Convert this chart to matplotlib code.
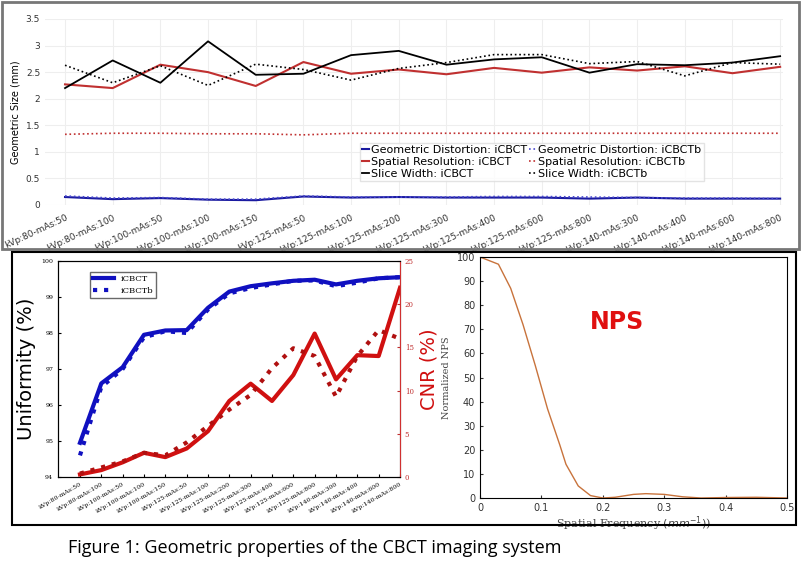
import matplotlib.pyplot as plt
from matplotlib.patches import Rectangle
import numpy as np

labels = ['kVp:80-mAs:50', 'kVp:80-mAs:100', 'kVp:100-mAs:50', 'kVp:100-mAs:100',
          'kVp:100-mAs:150', 'kVp:125-mAs:50', 'kVp:125-mAs:100', 'kVp:125-mAs:200',
          'kVp:125-mAs:300', 'kVp:125-mAs:400', 'kVp:125-mAs:600', 'kVp:125-mAs:800',
          'kVp:140-mAs:300', 'kVp:140-mAs:400', 'kVp:140-mAs:600', 'kVp:140-mAs:800']

gd_icbct = [0.15, 0.11, 0.13, 0.10, 0.09, 0.16, 0.14, 0.15, 0.14, 0.14, 0.14, 0.12, 0.14, 0.12, 0.12, 0.12]
gd_icbctb = [0.17, 0.13, 0.14, 0.11, 0.11, 0.17, 0.15, 0.15, 0.15, 0.16, 0.16, 0.15, 0.14, 0.13, 0.13, 0.12]
sr_icbct = [2.27, 2.20, 2.64, 2.50, 2.24, 2.69, 2.47, 2.55, 2.46, 2.58, 2.49, 2.59, 2.53, 2.61, 2.48, 2.60]
sr_icbctb = [1.33, 1.35, 1.35, 1.34, 1.34, 1.32, 1.35, 1.35, 1.35, 1.35, 1.35, 1.35, 1.35, 1.35, 1.35, 1.35]
sw_icbct = [2.20, 2.72, 2.30, 3.08, 2.45, 2.47, 2.82, 2.90, 2.64, 2.74, 2.78, 2.49, 2.65, 2.63, 2.68, 2.80]
sw_icbctb = [2.63, 2.30, 2.62, 2.25, 2.65, 2.55, 2.35, 2.57, 2.68, 2.83, 2.83, 2.66, 2.70, 2.43, 2.68, 2.65]

unif_icbct = [94.95, 96.6, 97.05, 97.95, 98.07, 98.08, 98.7, 99.15, 99.3, 99.38, 99.45, 99.48, 99.35, 99.45, 99.52, 99.55]
unif_icbctb = [94.6, 96.5, 97.0, 97.88, 98.05, 98.0, 98.65, 99.1, 99.25, 99.35, 99.45, 99.46, 99.3, 99.4, 99.52, 99.55]
cnr_icbct = [0.3, 0.8, 1.7, 2.8, 2.3, 3.3, 5.3, 8.8, 10.8, 8.8, 11.8, 16.6, 11.3, 14.1, 14.0, 21.9]
cnr_icbctb = [0.4, 1.1, 1.8, 2.8, 2.5, 4.0, 5.9, 7.8, 9.5, 12.6, 14.9, 14.0, 9.3, 14.0, 17.0, 16.0]

nps_freq = [0, 0.03, 0.05, 0.07, 0.09, 0.11, 0.13, 0.14, 0.16, 0.18, 0.20, 0.22, 0.25, 0.27, 0.30, 0.33, 0.36, 0.40, 0.45, 0.50]
nps_val = [100, 97, 87, 72, 55, 37, 22, 14, 5, 1, 0, 0.3, 1.5, 1.8, 1.5, 0.5, 0, 0.2, 0.3, 0]

x = np.arange(len(labels))
W, H = 801, 573
fig = plt.figure(figsize=(W / 100, H / 100), dpi=100)

def px(l, t, r, b):
    return [l / W, 1 - b / H, (r - l) / W, (b - t) / H]

# frames
fig.patches.append(Rectangle((2 / W, 1 - 249 / H), 797 / W, 247 / H, transform=fig.transFigure,
                             fill=False, ec='#777777', lw=2))
fig.patches.append(Rectangle((12 / W, 1 - 525 / H), 784 / W, 273 / H, transform=fig.transFigure,
                             fill=False, ec='black', lw=1.5))

# top panel
ax = fig.add_axes(px(45, 19, 783, 205))
h1, = ax.plot(x, gd_icbct, color='#1a1aa0', lw=1.5, label='Geometric Distortion: iCBCT')
h2, = ax.plot(x, gd_icbctb, color='#4a4ad0', lw=1.2, ls=':', label='Geometric Distortion: iCBCTb')
h3, = ax.plot(x, sr_icbct, color='#c03030', lw=1.5, label='Spatial Resolution: iCBCT')
h4, = ax.plot(x, sr_icbctb, color='#c03030', lw=1.2, ls=':', label='Spatial Resolution: iCBCTb')
h5, = ax.plot(x, sw_icbct, color='black', lw=1.3, label='Slice Width: iCBCT')
h6, = ax.plot(x, sw_icbctb, color='black', lw=1.2, ls=':', label='Slice Width: iCBCTb')
ax.set_xlim(-0.42, 15.06)
ax.set_ylim(0, 3.5)
ax.set_yticks([0, 0.5, 1, 1.5, 2, 2.5, 3, 3.5])
ax.set_yticklabels(['0', '0.5', '1', '1.5', '2', '2.5', '3', '3.5'])
ax.set_xticks(x)
ax.set_xticklabels(labels, rotation=25, ha='right', rotation_mode='anchor')
ax.tick_params(labelsize=6.5, length=0, colors='#333333')
ax.tick_params(axis='x', pad=6)
ax.grid(True, color='#eeeeee', lw=0.8)
for s in ax.spines.values():
    s.set_visible(False)
ax.set_ylabel('Geometric Size (mm)', fontsize=7)
ax.legend(handles=[h1, h3, h5, h2, h4, h6], ncol=2, fontsize=8, loc='lower right',
          bbox_to_anchor=(0.9, 0.1),
          handlelength=0.6, handletextpad=0.2, columnspacing=0.2,
          borderpad=0.2, labelspacing=0.15, frameon=True, edgecolor='#dddddd', fancybox=False)

# bottom left
serif = 'DejaVu Serif'
ax2 = fig.add_axes(px(58, 261, 400, 477))
ax2.plot(x, unif_icbct, color='#1010c0', lw=3, label='iCBCT')
ax2.plot(x, unif_icbctb, color='#1010c0', lw=3, ls=':', label='iCBCTb')
ax2.set_xlim(-1.03, 15)
ax2.set_ylim(94, 100)
ax2.set_xticks(x)
ax2.set_xticklabels(labels, rotation=30, ha='right', rotation_mode='anchor', fontfamily=serif)
ax2.tick_params(labelsize=4.5, direction='in', length=2)
for t in ax2.get_yticklabels():
    t.set_fontfamily(serif)
ax2.set_ylabel('Uniformity (%)', fontsize=14)
ax2.legend(loc='upper left', bbox_to_anchor=(0.08, 0.97), prop={'family': serif, 'size': 6},
           fancybox=False, edgecolor='#444444', handlelength=2.5)
ax3 = ax2.twinx()
ax3.plot(x, cnr_icbct, color='#d01010', lw=3)
ax3.plot(x, cnr_icbctb, color='#b01010', lw=3, ls=':')
ax3.set_ylim(0, 25)
ax3.tick_params(labelsize=5, direction='in', length=2, colors='#c03030')
for t in ax3.get_yticklabels():
    t.set_fontfamily(serif)
ax3.spines['right'].set_color('#d03030')
ax3.set_ylabel('CNR (%)', fontsize=14, color='#d01010')

# NPS
ax4 = fig.add_axes(px(480, 257, 787, 498))
ax4.plot(nps_freq, nps_val, color='#c8733c', lw=1)
ax4.set_xlim(0, 0.5)
ax4.set_ylim(0, 100)
ax4.set_yticks(range(0, 101, 10))
ax4.set_xticks([0, 0.1, 0.2, 0.3, 0.4, 0.5])
ax4.set_xticklabels(['0', '0.1', '0.2', '0.3', '0.4', '0.5'])
ax4.tick_params(labelsize=7, direction='in', length=2, colors='#333333')
ax4.set_xlabel(r'Spatial Frequency $(mm^{-1})$)', fontsize=8, family=serif, labelpad=1, color='#444444')
ax4.set_ylabel('Normalized NPS', fontsize=7, family=serif, color='#444444')
ax4.text(0.223, 73, 'NPS', fontsize=17, fontweight='bold', color='#e01010', ha='center', va='center')

fig.text(68 / W, 1 - 548 / H, 'Figure 1: Geometric properties of the CBCT imaging system',
         fontsize=13, family='Open Sans', va='center')

fig.savefig('out.png', dpi=100)
